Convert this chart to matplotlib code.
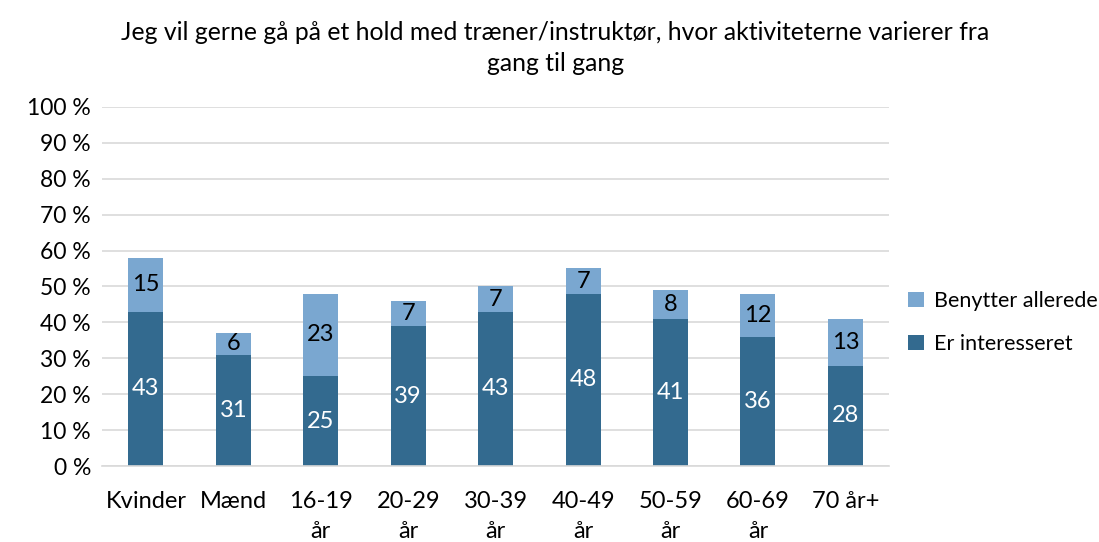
import numpy as np
import matplotlib.pyplot as plt
from matplotlib.ticker import FuncFormatter

plt.rcParams['font.family'] = ['Lato', 'DejaVu Sans']

categories = ["Kvinder", "Mænd", "16-19\når", "20-29\når", "30-39\når",
              "40-49\når", "50-59\når", "60-69\når", "70 år+"]
er_interesseret = [43, 31, 25, 39, 43, 48, 41, 36, 28]
benytter_allerede = [15, 6, 23, 7, 7, 7, 8, 12, 13]

dark = "#336a8f"
light = "#7aa7d0"

fig = plt.figure(figsize=(10.99, 5.42), dpi=100)
ax = fig.add_axes([0.093, 0.14, 0.716, 0.663])

x = np.arange(len(categories))
b1 = ax.bar(x, er_interesseret, width=0.4, color=dark, label="Er interesseret", zorder=2)
b2 = ax.bar(x, benytter_allerede, width=0.4, bottom=er_interesseret, color=light,
            label="Benytter allerede", zorder=2)

for i in range(len(x)):
    ax.text(x[i], er_interesseret[i] / 2, str(er_interesseret[i]), ha="center", va="center",
            color="white", fontsize=17)
    ax.text(x[i], er_interesseret[i] + benytter_allerede[i] / 2, str(benytter_allerede[i]),
            ha="center", va="center", color="black", fontsize=17)

ax.set_ylim(0, 100)
ax.set_xlim(-0.5, len(x) - 0.5)
ax.set_yticks(range(0, 101, 10))
ax.yaxis.set_major_formatter(FuncFormatter(lambda v, p: f"{int(v)} %"))
ax.set_xticks(x)
ax.set_xticklabels(categories, linespacing=1.55)
ax.tick_params(axis="x", length=0, labelsize=17, pad=18)
ax.tick_params(axis="y", length=0, labelsize=16.5, pad=8)
ax.grid(axis="y", color="#d9d9d9", linewidth=1.2, zorder=0)
for s in ["top", "right", "left"]:
    ax.spines[s].set_visible(False)
ax.spines["bottom"].set_color("#d9d9d9")
ax.spines["bottom"].set_linewidth(1.2)

ax.set_title("Jeg vil gerne gå på et hold med træner/instruktør, hvor aktiviteterne varierer fra\ngang til gang",
             fontsize=17.8, pad=26, x=0.576, linespacing=1.4)

handles = [b2, b1]
fig.legend(handles, ["Benytter allerede", "Er interesseret"], loc="center left",
           bbox_to_anchor=(0.809, 0.405), frameon=False, fontsize=15.5,
           handlelength=0.7, handleheight=0.7, handletextpad=0.5, labelspacing=1.1)

fig.savefig("out.png", dpi=100)
